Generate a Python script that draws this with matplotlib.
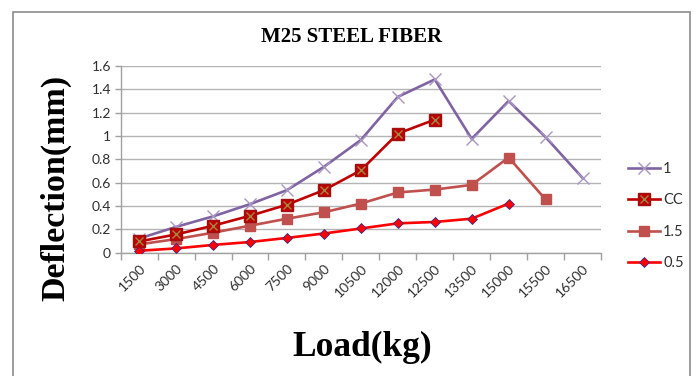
import matplotlib
matplotlib.use('Agg')
import matplotlib.pyplot as plt
from matplotlib.patches import Rectangle
import numpy as np

# load steps (kg) and deflection readings (mm)
loads = ['1500', '3000', '4500', '6000', '7500', '9000', '10500',
         '12000', '12500', '13500', '15000', '15500', '16500']
d_1 = [0.12, 0.22, 0.31, 0.415, 0.535, 0.735, 0.965, 1.335, 1.485, 0.975, 1.30, 0.99, 0.64]
d_cc = [0.095, 0.155, 0.23, 0.315, 0.41, 0.535, 0.705, 1.02, 1.14]
d_15 = [0.07, 0.115, 0.17, 0.23, 0.29, 0.345, 0.42, 0.515, 0.54, 0.58, 0.815, 0.455]
d_05 = [0.015, 0.035, 0.065, 0.09, 0.125, 0.163, 0.206, 0.25, 0.262, 0.29, 0.42]

plt.rcParams['font.family'] = ['Lato', 'DejaVu Sans']
fig = plt.figure(figsize=(6.99, 3.76), dpi=100)
ax = fig.add_axes([120.7/699, 1-252.5/376, (601-120.7)/699, (252.5-66)/376])

# outer chart frame
fig.patches.append(Rectangle((13/699, -0.1), (690-13)/699, 1.1-12/376,
                             transform=fig.transFigure, fill=False,
                             edgecolor='#8c8c8c', linewidth=1.2))

x = np.arange(len(loads))
l1, = ax.plot(x[:len(d_1)], d_1, color='#8064A2', lw=1.9, marker='x',
              ms=8, mec='#a996c4', mew=1.0, zorder=3)
lcc, = ax.plot(x[:len(d_cc)], d_cc, color='#C00000', lw=1.9, marker='s',
               ms=8, mfc='#C00000', mec='#a01010', zorder=4)
lccx, = ax.plot(x[:len(d_cc)], d_cc, ls='none', marker='x', ms=6,
                mec='#a08a40', mew=1.0, zorder=5)
l15, = ax.plot(x[:len(d_15)], d_15, color='#C0504D', lw=1.9, marker='s',
               ms=7.5, mfc='#C0504D', mec='#C0504D', zorder=3)
l05, = ax.plot(x[:len(d_05)], d_05, color='#FF0000', lw=1.9, marker='D',
               ms=5.5, mfc='#FF0000', mec='#3a2a8a', mew=0.6, zorder=3)

ax.set_xlim(-0.5, len(loads) - 0.5)
ax.set_ylim(0, 1.6)
ax.set_yticks(np.arange(0, 1.61, 0.2))
ax.set_yticklabels(['0', '0.2', '0.4', '0.6', '0.8', '1', '1.2', '1.4', '1.6'],
                   fontsize=10, color='#303030')
ax.set_xticks(x)
ax.set_xticklabels(loads, rotation=45, ha='right', va='top',
                   rotation_mode='anchor', fontsize=10, color='#303030')
ax.tick_params(axis='x', which='major', length=0, pad=7)
ax.set_xticks(np.arange(-0.5, len(loads)), minor=True)
ax.tick_params(axis='x', which='minor', length=5, color='#a0a0a0', width=1)
ax.tick_params(axis='y', length=4, color='#a0a0a0', width=1, pad=3)
ax.grid(axis='y', color='#b4b4b4', lw=1)
ax.set_axisbelow(True)
for s in ['top', 'right']:
    ax.spines[s].set_visible(False)
for s in ['left', 'bottom']:
    ax.spines[s].set_color('#a0a0a0')
    ax.spines[s].set_linewidth(1)

fig.text(352/699, 1-37/376, 'M25 STEEL FIBER', ha='center', va='center',
         family='Liberation Serif', fontweight='bold', fontsize=15)
fig.text(56/699, 1-188/376, 'Deflection(mm)', ha='center', va='center',
         rotation=90, family='Liberation Serif', fontweight='bold', fontsize=24.5)
fig.text(362/699, 1-347/376, 'Load(kg)', ha='center', va='center',
         family='Liberation Serif', fontweight='bold', fontsize=25.5)

leg = fig.legend([l1, (lcc, lccx), l15, l05], ['1', 'CC', '1.5', '0.5'],
                 loc='center left', bbox_to_anchor=(615/699, 1-216/376),
                 frameon=False, fontsize=10.5, handlelength=2.2,
                 handletextpad=0.2, labelspacing=1.2)
for t in leg.get_texts():
    t.set_color('#303030')

fig.savefig('out.png', dpi=100)
